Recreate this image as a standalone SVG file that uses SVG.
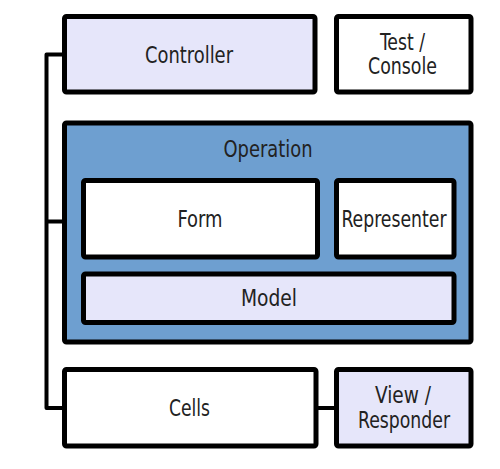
<svg xmlns="http://www.w3.org/2000/svg" width="500" height="469" viewBox="0 0 500 469">
<style>
.box{stroke:#000;stroke-width:5;stroke-linejoin:round}
.w{fill:#fff}
.l{fill:#e6e6fa}
.op{fill:#6e9fd0}
text{font-family:"DejaVu Sans Condensed","DejaVu Sans",sans-serif;font-stretch:condensed;font-size:23px;fill:#222;text-anchor:middle}
.conn{fill:none;stroke:#000;stroke-width:4;stroke-linejoin:round}
</style>
<rect width="500" height="469" fill="#fff"/>
<g id="connectors">
<path class="conn" d="M64 54.5 H46.5 V408 H64"/>
<path class="conn" d="M46.5 221.5 H83"/>
<path class="conn" d="M316 408 H336"/>
</g>
<g id="controller"><rect class="box l" x="64.5" y="16.5" width="250.5" height="75.5" rx="2"/><text x="189" y="63" textLength="88" lengthAdjust="spacingAndGlyphs">Controller</text></g>
<g id="test-console"><rect class="box w" x="336.5" y="16.5" width="134.5" height="75.5" rx="2"/><text x="402.5" y="50" textLength="45" lengthAdjust="spacingAndGlyphs">Test /</text><text x="402.5" y="74" textLength="69" lengthAdjust="spacingAndGlyphs">Console</text></g>
<g id="operation"><rect class="box op" x="64.5" y="123" width="406.5" height="219" rx="2"/><text x="268" y="157" textLength="89" lengthAdjust="spacingAndGlyphs">Operation</text></g>
<g id="form"><rect class="box w" x="83.5" y="180.5" width="234" height="76.5" rx="2"/><text x="200" y="227" textLength="45" lengthAdjust="spacingAndGlyphs">Form</text></g>
<g id="representer"><rect class="box w" x="336.5" y="180.5" width="117.5" height="76.5" rx="2"/><text x="394" y="227" textLength="105" lengthAdjust="spacingAndGlyphs">Representer</text></g>
<g id="model"><rect class="box l" x="83.5" y="274" width="370.5" height="48.5" rx="2"/><text x="269" y="306" textLength="56" lengthAdjust="spacingAndGlyphs">Model</text></g>
<g id="cells"><rect class="box w" x="64.5" y="369.5" width="251.5" height="76.5" rx="2"/><text x="189.5" y="416" textLength="41" lengthAdjust="spacingAndGlyphs">Cells</text></g>
<g id="view-responder"><rect class="box l" x="336.5" y="369.5" width="134.5" height="76.5" rx="2"/><text x="403" y="403" textLength="56" lengthAdjust="spacingAndGlyphs">View /</text><text x="404" y="428" textLength="92" lengthAdjust="spacingAndGlyphs">Responder</text></g>
</svg>
